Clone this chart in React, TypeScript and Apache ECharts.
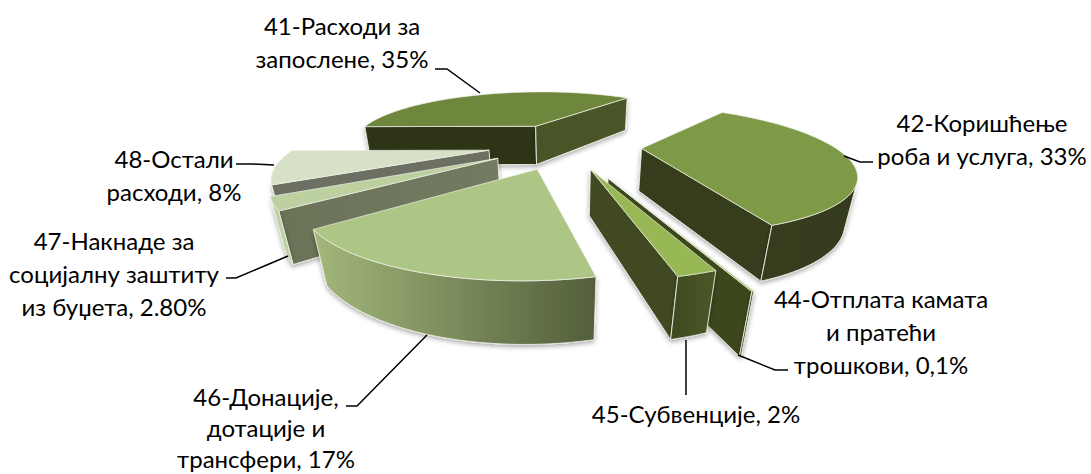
import React, { useEffect, useRef } from "react";
import * as echarts from "echarts";

// ---- data, clockwise from the left edge of slice 41
const categories = ["41", "42", "44", "45", "46", "47", "48"];
const values = [35, 33, 0.1, 2, 17, 2.8, 8];
const labelTexts = [
  "41-Расходи за\nзапослене, 35%",
  "42-Коришћење\nроба и услуга, 33%",
  "44-Отплата камата\nи пратећи\nтрошкови, 0,1%",
  "45-Субвенције, 2%",
  "46-Донације,\nдотације и\nтрансфери, 17%",
  "47-Накнаде за\nсоцијалну заштиту\nиз буџета, 2.80%",
  "48-Остали\nрасходи, 8%",
];

// ---- layout
const labelPos = [[342, 41.5], [982, 138.5], [881, 331], [696, 413], [266, 427], [114, 273], [174, 175]];
const labelLineHeights = [33, 33, 33, 33, 31, 33, 33];
const leaders = [
  [[435, 69], [447, 69], [480, 93]],
  [[873, 162], [860, 162], [844, 156]],
  [[788, 370], [775, 370], [738, 355]],
  [[686, 340], [686, 395]],
  [[346, 406], [357, 406], [427, 335]],
  [[226, 278], [236, 278], [288, 256]],
  [[236, 164], [253, 164], [274, 165]],
];
const CX = 564.2201, CY = 251.0611, FOCAL = 536.7544, TILT = 0.483;
const RADIUS = 0.5701, DEPTH = 0.1332, START = 3.1334;
const apexes = [
  [-0.0957, -0.8993], [0.227, -0.648], [0.1102, -0.3936], [0.0688, -0.4628],
  [-0.071, -0.4621], [-0.1847, -0.5554], [-0.2182, -0.6311],
];
const paintOrder = [0, 6, 5, 1, 2, 3, 4];
const FONT = "Lato, 'Open Sans', sans-serif";

const grad = (a: string, b: string) =>
  new echarts.graphic.LinearGradient(0, 0, 1, 0, [{ offset: 0, color: a }, { offset: 1, color: b }]);
// top, start wall, end wall, outer wall
const faceColors: any[][] = [
  ["#6E873C", "#2E3418", "#4A5427", "#4A5427"],
  ["#7E9A47", "#363D1D", "#363D1D", grad("#363D1D", "#333A1B")],
  ["#97B855", "#3D471F", "#3D471F", "#3D471F"],
  ["#97B855", "#3F4A20", "#3F4A20", grad("#3F4A20", "#4A5727")],
  ["#AEC685", "#6B7A4C", "#6B7A4C", grad("#A3B87B", "#525E3B")],
  ["#BDD0A0", grad("#6B7358", "#727B60"), "#6E7760", "#BDD0A0"],
  ["#D7E1C8", "#6C7063", "#6C7063", "#6C7063"],
];
const EDGE = "rgba(240,242,232,0.85)";

function project(x: number, y: number, z: number): number[] {
  const d = 1 - (y * Math.cos(TILT) + z * Math.sin(TILT));
  return [CX + (FOCAL * x) / d, CY + (FOCAL * (y * Math.sin(TILT) - z * Math.cos(TILT))) / d];
}
const total = values.reduce((a, b) => a + b, 0);
function sliceAngles(i: number): number[] {
  const before = values.slice(0, i).reduce((a, b) => a + b, 0);
  const toAngle = (v: number) => START + (v / total) * 2 * Math.PI;
  return [toAngle(before), toAngle(before + values[i])];
}
// is a wall, whose outward normal is (nx, ny), turned to the camera?
function faces(px: number, py: number, nx: number, ny: number): boolean {
  return (0 - px) * nx + (Math.cos(TILT) - py) * ny > 0;
}

function renderSlice(_: any, api: any) {
  const i = api.value(0) as number;
  const [ax, ay] = apexes[i];
  const [t0, t1] = sliceAngles(i);
  const rim = (t: number) => [ax + RADIUS * Math.cos(t), ay + RADIUS * Math.sin(t)];
  const colors = faceColors[i];
  const children: any[] = [];
  const wall = (points: number[][], fill: any) =>
    children.push({
      type: "polygon",
      shape: { points },
      style: { fill, stroke: EDGE, lineWidth: 1, shadowBlur: 5, shadowOffsetY: 2, shadowColor: "rgba(0,0,0,0.35)" },
    });
  const quad = (t: number) => {
    const [x, y] = rim(t);
    return [project(ax, ay, 0), project(x, y, 0), project(x, y, -DEPTH), project(ax, ay, -DEPTH)];
  };
  const [sx, sy] = rim(t0);
  if (faces(sx, sy, Math.cos(t0 - Math.PI / 2), Math.sin(t0 - Math.PI / 2))) wall(quad(t0), colors[1]);
  const [ex, ey] = rim(t1);
  if (faces(ex, ey, Math.cos(t1 + Math.PI / 2), Math.sin(t1 + Math.PI / 2))) wall(quad(t1), colors[2]);

  const steps = 64;
  const upper: number[][] = [];
  const lower: number[][] = [];
  for (let k = 0; k <= steps; k++) {
    const t = t0 + ((t1 - t0) * k) / steps;
    const [x, y] = rim(t);
    if (faces(x, y, Math.cos(t), Math.sin(t))) {
      upper.push(project(x, y, 0));
      lower.unshift(project(x, y, -DEPTH));
    }
  }
  if (upper.length > 1) wall([...upper, ...lower], colors[3]);

  const top = [project(ax, ay, 0)];
  for (let k = 0; k <= steps; k++) {
    const [x, y] = rim(t0 + ((t1 - t0) * k) / steps);
    top.push(project(x, y, 0));
  }
  children.push({ type: "polygon", shape: { points: top }, style: { fill: colors[0], stroke: EDGE, lineWidth: 0.8 } });
  return { type: "group", children };
}

export default function App() {
  const ref = useRef<HTMLDivElement>(null);
  useEffect(() => {
    const chart = echarts.init(ref.current!, null, { renderer: "svg" });
    chart.setOption({
      animation: false,
      backgroundColor: "#fff",
      series: [
        {
          type: "custom",
          name: "Расходи",
          coordinateSystem: "none",
          silent: true,
          clip: false,
          data: paintOrder.map((i) => [i, values[i], categories[i]]),
          renderItem: renderSlice,
        },
      ],
      graphic: [
        ...leaders.map((points) => ({
          type: "polyline",
          z: 10,
          shape: { points },
          style: { fill: "none", stroke: "#000", lineWidth: 1.5 },
        })),
        ...labelTexts.map((text, i) => ({
          type: "text",
          z: 11,
          x: labelPos[i][0],
          y: labelPos[i][1],
          style: {
            text,
            fontFamily: FONT,
            fontSize: 24,
            lineHeight: labelLineHeights[i],
            fill: "#000",
            align: "center",
            verticalAlign: "middle",
          },
        })),
      ],
    });
    return () => chart.dispose();
  }, []);
  return (
    <div style={{ position: "fixed", left: 0, top: 0, width: 1091, height: 474 }}>
      <div ref={ref} style={{ width: 1091, height: 474 }} />
    </div>
  );
}
